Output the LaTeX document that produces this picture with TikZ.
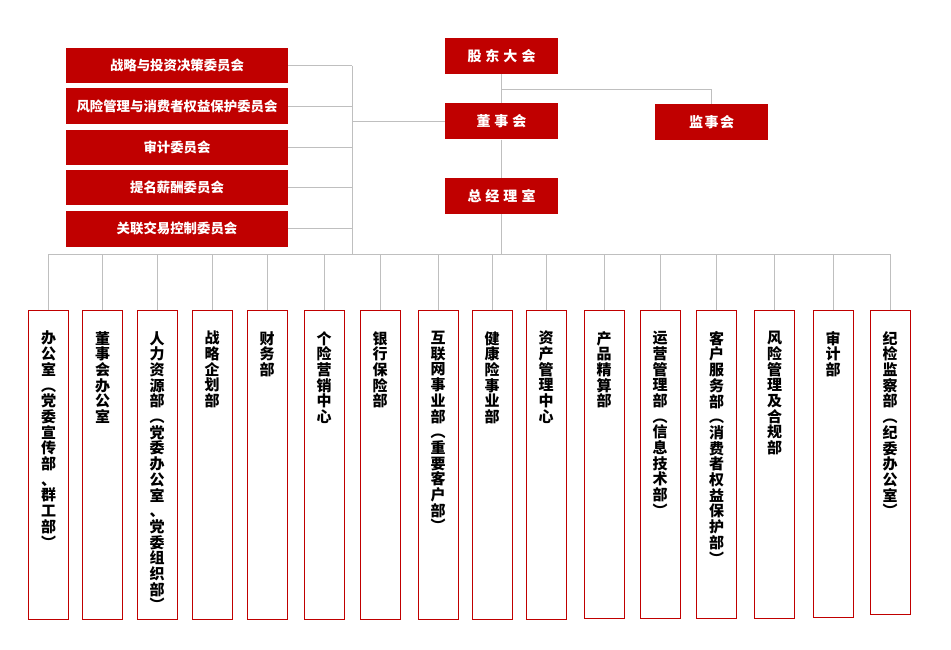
\documentclass[tikz,border=0pt]{standalone}
\usepackage{fontspec}
\newfontfamily\cjk{Noto Sans CJK SC}
\usepackage{tikz}
\usetikzlibrary{positioning}
\definecolor{boardred}{HTML}{C00000}
\definecolor{linegray}{HTML}{BFBFBF}
\newcommand\cgap{\hspace{4pt}}

\tikzset{
  board/.style={fill=boardred, text=white, inner sep=0pt,
    font=\cjk\bfseries\fontsize{14}{14}\selectfont,
    minimum width=113pt, minimum height=36pt},
  committee/.style={board, font=\cjk\bfseries\fontsize{13.4}{13.4}\selectfont,
    minimum width=222pt, minimum height=35pt},
  dept/.style={draw=boardred, line width=1pt, anchor=north, inner sep=0pt,
    minimum width=40pt, minimum height=309pt},
  depttext/.style={anchor=north, inner sep=0pt, align=center,
    font=\cjk\bfseries\fontsize{15}{15.7}\selectfont},
  link/.style={draw=linegray, line width=0.9pt},
}

\begin{document}
\begin{tikzpicture}[x=1pt, y=-1pt]
			\useasboundingbox (0,0) rectangle (951,649);
			
			\node[board] (sh) at (501.5,56) {股\cgap 东\cgap 大\cgap 会};
			\node[board, below=29pt of sh] (bd) {董\cgap 事\cgap 会};
			\node[board, below=38pt of bd] (gm) {总\cgap 经\cgap 理\cgap 室};
			\node[board] (sup) at (711.5,122) {监\hspace{1.5pt}事\hspace{1.5pt}会};
			
			\node[committee] (c1) at (177,65.5) {战略与投资决策委员会};
			\node[committee, below=5pt of c1, minimum height=36pt] (c2) {风险管理与消费者权益保护委员会};
			\node[committee, below=5pt of c2] (c3) {审计委员会};
			\node[committee, below=5pt of c3] (c4) {提名薪酬委员会};
			\node[committee, below=5pt of c4, minimum height=36pt] (c5) {关联交易控制委员会};
			
			\coordinate (cbus) at (352,0);
			\coordinate (bus) at (0,254);
			
			\node[dept] (d1) at (48.5,310) {};
			\node[dept] (d2) at (102.5,310) {};
			\node[dept] (d3) at (157,310) {};
			\node[dept] (d4) at (212,310) {};
			\node[dept] (d5) at (267,310) {};
			\node[dept] (d6) at (324,310) {};
			\node[dept] (d7) at (380,310) {};
			\node[dept] (d8) at (438,310) {};
			\node[dept] (d9) at (492,310) {};
			\node[dept] (d10) at (546,310) {};
			\node[dept, minimum height=308pt] (d11) at (604,310) {};
			\node[dept, minimum height=308pt] (d12) at (660,310) {};
			\node[dept, minimum height=308pt] (d13) at (716.5,310) {};
			\node[dept, minimum height=308pt] (d14) at (774.5,310) {};
			\node[dept, minimum height=307pt] (d15) at (833,310) {};
			\node[dept, minimum height=304pt] (d16) at (890,310) {};
			
			\node[depttext] (t1) at ([yshift=-21pt]d1.north) {办\\公\\室\\︵\\党\\委\\宣\\传\\部\\、\\群\\工\\部\\︶};
			\node[depttext] (t2) at ([yshift=-21pt]d2.north) {董\\事\\会\\办\\公\\室};
			\node[depttext] (t3) at ([yshift=-21pt]d3.north) {人\\力\\资\\源\\部\\︵\\党\\委\\办\\公\\室\\、\\党\\委\\组\\织\\部\\︶};
			\node[depttext] (t4) at ([yshift=-21pt]d4.north) {战\\略\\企\\划\\部};
			\node[depttext] (t5) at ([yshift=-21pt]d5.north) {财\\务\\部};
			\node[depttext] (t6) at ([yshift=-21pt]d6.north) {个\\险\\营\\销\\中\\心};
			\node[depttext] (t7) at ([yshift=-21pt]d7.north) {银\\行\\保\\险\\部};
			\node[depttext] (t8) at ([yshift=-21pt]d8.north) {互\\联\\网\\事\\业\\部\\︵\\重\\要\\客\\户\\部\\︶};
			\node[depttext] (t9) at ([yshift=-21pt]d9.north) {健\\康\\险\\事\\业\\部};
			\node[depttext] (t10) at ([yshift=-21pt]d10.north) {资\\产\\管\\理\\中\\心};
			\node[depttext] (t11) at ([yshift=-21pt]d11.north) {产\\品\\精\\算\\部};
			\node[depttext] (t12) at ([yshift=-21pt]d12.north) {运\\营\\管\\理\\部\\︵\\信\\息\\技\\术\\部\\︶};
			\node[depttext] (t13) at ([yshift=-21pt]d13.north) {客\\户\\服\\务\\部\\︵\\消\\费\\者\\权\\益\\保\\护\\部\\︶};
			\node[depttext] (t14) at ([yshift=-21pt]d14.north) {风\\险\\管\\理\\及\\合\\规\\部};
			\node[depttext] (t15) at ([yshift=-21pt]d15.north) {审\\计\\部};
			\node[depttext] (t16) at ([yshift=-21pt]d16.north) {纪\\检\\监\\察\\部\\︵\\纪\\委\\办\\公\\室\\︶};
			
			% top links
			\draw[link] (sh) -- (bd);
			\draw[link] (sh.south) -- ++(0,15) -| (sup.north);
			\draw[link] (bd) -- (gm);
			\draw[link] (gm.south) -- (gm.south |- bus);
			\draw[link] (bd.west) -- (bd.west -| cbus);
			
			% committees
			\draw[link] (c1.east -| cbus) -- (cbus |- bus);
			\draw[link] (c1.east) -- (c1.east -| cbus);
			\draw[link] (c2.east) -- (c2.east -| cbus);
			\draw[link] (c3.east) -- (c3.east -| cbus);
			\draw[link] (c4.east) -- (c4.east -| cbus);
			\draw[link] (c5.east) -- (c5.east -| cbus);
			
			% departments
			\draw[link] (d1.north |- bus) -- (d16.north |- bus);
			\draw[link] (d1.north) -- (d1.north |- bus);
			\draw[link] (d2.north) -- (d2.north |- bus);
			\draw[link] (d3.north) -- (d3.north |- bus);
			\draw[link] (d4.north) -- (d4.north |- bus);
			\draw[link] (d5.north) -- (d5.north |- bus);
			\draw[link] (d6.north) -- (d6.north |- bus);
			\draw[link] (d7.north) -- (d7.north |- bus);
			\draw[link] (d8.north) -- (d8.north |- bus);
			\draw[link] (d9.north) -- (d9.north |- bus);
			\draw[link] (d10.north) -- (d10.north |- bus);
			\draw[link] (d11.north) -- (d11.north |- bus);
			\draw[link] (d12.north) -- (d12.north |- bus);
			\draw[link] (d13.north) -- (d13.north |- bus);
			\draw[link] (d14.north) -- (d14.north |- bus);
			\draw[link] (d15.north) -- (d15.north |- bus);
			\draw[link] (d16.north) -- (d16.north |- bus);
			
		\end{tikzpicture}
\end{document}
